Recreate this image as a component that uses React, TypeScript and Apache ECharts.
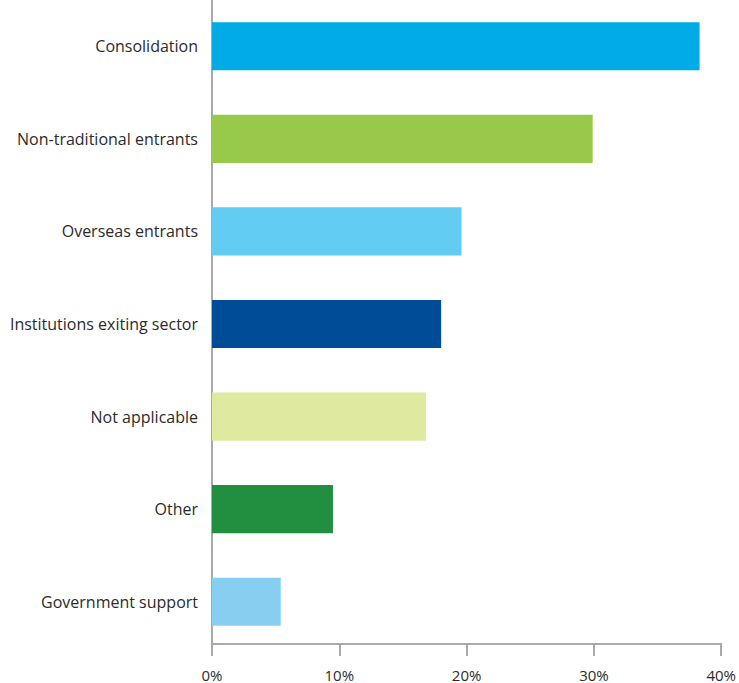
import React, { useEffect, useRef } from "react";
import * as echarts from "echarts";

const categories = [
  "Consolidation",
  "Non-traditional entrants",
  "Overseas entrants",
  "Institutions exiting sector",
  "Not applicable",
  "Other",
  "Government support",
];
const values = [38.3, 29.9, 19.6, 18.0, 16.8, 9.5, 5.4];
const colors = ["#00abe6", "#99c94a", "#62ccf2", "#004c97", "#dfe99f", "#218e40", "#87cef0"];
const xTicks = [0, 10, 20, 30, 40];

export default function App() {
  const ref = useRef<HTMLDivElement>(null);
  useEffect(() => {
    if (!ref.current) return;
    const chart = echarts.init(ref.current, undefined, { renderer: "svg" });
    chart.setOption({
      animation: false,
      grid: { left: 212, right: 14, top: 0, height: 648, containLabel: false },
      xAxis: {
        type: "value",
        min: xTicks[0],
        max: xTicks[xTicks.length - 1],
        interval: 10,
        offset: -4,
        splitLine: { show: false },
        axisLine: { show: true, lineStyle: { color: "#a7a9ac", width: 2 } },
        axisTick: { show: true, length: 12, lineStyle: { color: "#a7a9ac", width: 2 } },
        axisLabel: {
          formatter: "{value}%",
          color: "#2b2b2b",
          fontFamily: "Open Sans",
          fontSize: 15,
          lineHeight: 13,
          margin: 24,
          verticalAlign: "top",
        },
      },
      yAxis: {
        type: "category",
        data: categories,
        inverse: true,
        axisLine: { show: true, lineStyle: { color: "#a7a9ac", width: 2 } },
        axisTick: { show: false },
        axisLabel: {
          color: "#2b2b2b",
          fontFamily: "Open Sans",
          fontSize: 16,
          margin: 14,
        },
      },
      series: [
        {
          type: "bar",
          data: values.map((v, i) => ({ value: v, itemStyle: { color: colors[i] } })),
          barCategoryGap: "48%",
        },
      ],
    });
    return () => chart.dispose();
  }, []);
  return <div ref={ref} style={{ position: "absolute", left: 0, top: 0, width: 739, height: 683 }} />;
}
